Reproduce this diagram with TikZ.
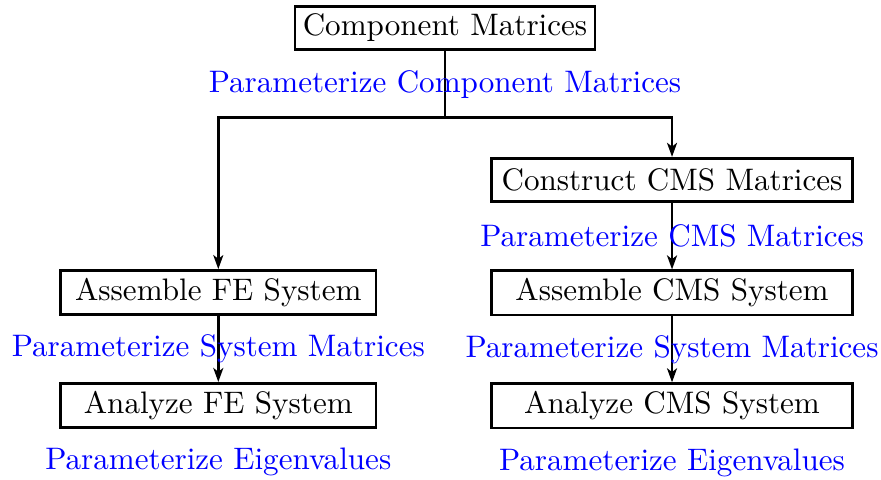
\documentclass[tikz,border=0pt]{standalone}
\usepackage{tikz}
\usetikzlibrary{arrows.meta}
\tikzset{node distance=36.3pt, >={Stealth[length=4.5pt,width=3.2pt,inset=1.2pt]},
  box/.style={draw, line width=0.9pt, inner sep=2.5pt, minimum height=14pt},
  feBox/.style={box, minimum width=101.4pt}, cmsBox/.style={box, minimum width=116.1pt},
  param/.style={text=blue, inner sep=0pt}, every edge/.style={draw,->,line width=0.9pt}}

\begin{document}
\begin{tikzpicture}
            \useasboundingbox (0pt,0pt) rectangle (283.3pt,-154.3pt);
            \node[box] (comp) at (143.1pt,-9pt) {Component Matrices};
            \coordinate (split) at (143.1pt,-37.9pt);
            \node[cmsBox] (cons) at (216.1pt,-57.9pt) {Construct CMS Matrices};
            \node[cmsBox, below of=cons] (asmCMS) {Assemble CMS System};
            \node[cmsBox, below of=asmCMS] (anaCMS) {Analyze CMS System};
            \node[feBox] (asmFE) at (70.2pt,-94.1pt) {Assemble FE System};
            \node[feBox, below of=asmFE] (anaFE) {Analyze FE System};
            \node[param, below of=anaFE, node distance=18.2pt] (eigFE) {Parameterize Eigenvalues};
            \node[param, below of=anaCMS, node distance=18.2pt] (eigCMS) {Parameterize Eigenvalues};

            \draw[line width=0.9pt] (comp) -- node[param]{Parameterize Component Matrices} (split);
            \draw[line width=0.9pt,->] (split) -| (asmFE);
            \draw[line width=0.9pt,->] (split) -| (cons);
            \draw   (cons) edge node[param]{Parameterize CMS Matrices} (asmCMS)
                    (asmCMS) edge node[param]{Parameterize System Matrices} (anaCMS)
                    (asmFE) edge node[param]{Parameterize System Matrices} (anaFE);
\end{tikzpicture}
\end{document}
